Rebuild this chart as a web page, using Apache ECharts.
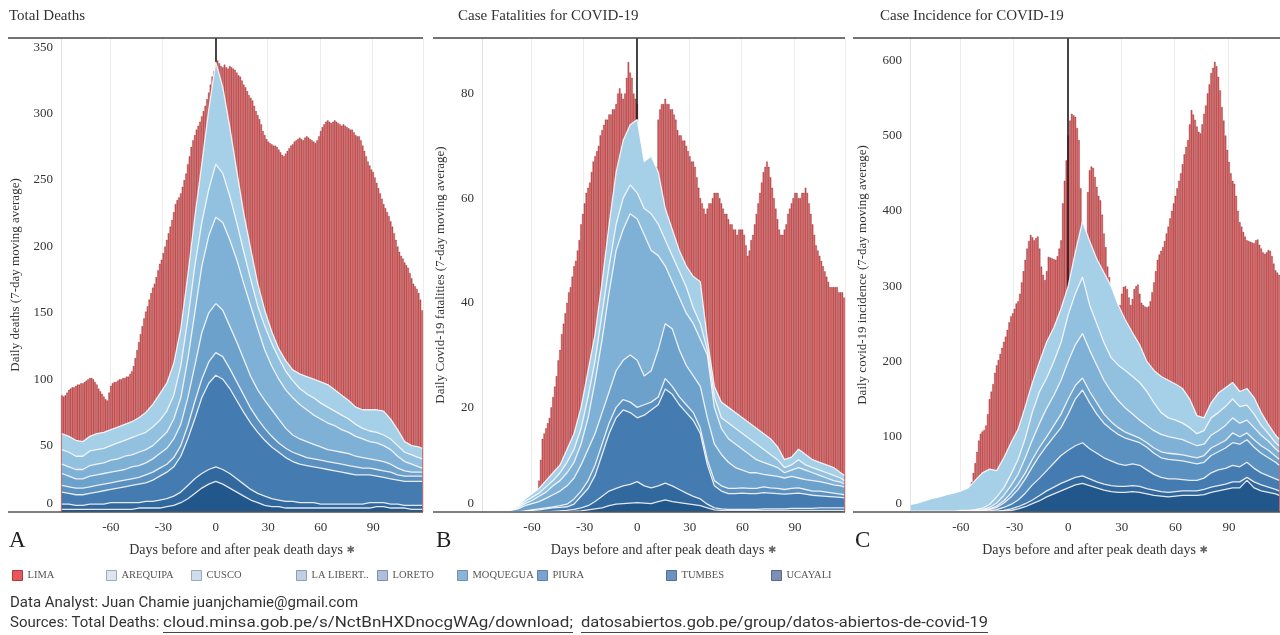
<!DOCTYPE html>
<html><head><meta charset="utf-8">
<script src="https://cdn.jsdelivr.net/npm/echarts@6/dist/echarts.min.js"></script>
<style>html,body{margin:0;padding:0;background:#fff;}#c{width:1280px;height:635px;}</style>
</head><body><div id="c"></div>
<script>
// ---------- categories & ticks ----------
const days = [-88,-87,-86,-85,-84,-83,-82,-81,-80,-79,-78,-77,-76,-75,-74,-73,-72,-71,-70,-69,-68,-67,-66,-65,-64,-63,-62,-61,-60,-59,-58,-57,-56,-55,-54,-53,-52,-51,-50,-49,-48,-47,-46,-45,-44,-43,-42,-41,-40,-39,-38,-37,-36,-35,-34,-33,-32,-31,-30,-29,-28,-27,-26,-25,-24,-23,-22,-21,-20,-19,-18,-17,-16,-15,-14,-13,-12,-11,-10,-9,-8,-7,-6,-5,-4,-3,-2,-1,0,1,2,3,4,5,6,7,8,9,10,11,12,13,14,15,16,17,18,19,20,21,22,23,24,25,26,27,28,29,30,31,32,33,34,35,36,37,38,39,40,41,42,43,44,45,46,47,48,49,50,51,52,53,54,55,56,57,58,59,60,61,62,63,64,65,66,67,68,69,70,71,72,73,74,75,76,77,78,79,80,81,82,83,84,85,86,87,88,89,90,91,92,93,94,95,96,97,98,99,100,101,102,103,104,105,106,107,108,109,110,111,112,113,114,115,116,117,118];
const sampleDays = [-88,-84,-80,-76,-72,-68,-64,-60,-56,-52,-48,-44,-40,-36,-32,-28,-24,-20,-16,-12,-8,-4,0,4,8,12,16,20,24,28,32,36,40,44,48,52,56,60,64,68,72,76,80,84,88,92,96,100,104,108,112,116,118];
const xTickLabels = [-60,-30,0,30,60,90];
const regionNames = ['AREQUIPA','CUSCO','LA LIBERTAD','LORETO','MOQUEGUA','PIURA','TUMBES','UCAYALI'];

// ---------- LIMA (bars, one per day) ----------
const limaDeaths = [88,87,88,90,92,93,94,94,95,96, 96,97,97,98,99,100,101,101,100,98, 96,93,91,89,87,85,84,90,95,97, 98,98,99,100,100,101,101,102,102,104, 106,110,116,122,128,134,140,146,151,155, 160,165,169,172,177,182,187,190,195,200, 205,210,215,220,226,232,235,237,240,245, 250,255,262,268,275,280,284,288,291,294, 298,302,306,311,316,322,328,332,336,340, 338,336,335,337,335,334,336,335,334,333, 331,329,328,325,322,320,317,314,312,310, 306,302,299,296,292,287,284,281,279,278, 277,276,276,275,273,271,269,268,270,272, 274,276,277,279,280,281,282,281,280,282, 283,282,281,280,279,278,280,283,287,290, 292,294,295,294,293,294,295,294,293,292, 291,292,291,290,289,288,288,286,284,283, 283,280,276,272,268,264,261,258,256,252, 248,244,240,236,232,229,226,223,219,215, 210,205,200,196,193,191,188,186,184,180, 176,172,170,168,165,160,152];
const limaFatalities = [0,0,0,0,0,0,0,0,0,0, 0,0,0,0,0,0,0,0,0,0, 0,0,0,0,0,0,0,0,0,0, 0,0,6,10,14,15,16,17,18,20, 22,24,26,29,31,34,36,38,40,42, 43,45,47,48,50,52,55,57,59,61, 62,63,65,67,68,69,70,72,73,74, 75,75,76,76,77,77,78,80,81,80, 79,80,83,86,84,83,80,79,78,64, 62,61,60,60,61,62,63,64,65,66, 75,77,78,78,79,78,78,77,77,76, 75,73,72,72,71,71,70,69,68,67, 67,66,64,62,60,59,58,57,58,59, 59,60,61,61,61,60,59,58,57,57, 56,55,55,54,54,53,54,54,54,53, 51,49,50,52,53,55,57,59,61,63, 65,66,67,66,64,62,60,58,56,54, 53,53,54,55,57,58,59,60,61,61, 60,60,61,61,62,61,59,57,55,53, 51,50,49,48,47,46,45,44,43,43, 43,43,43,42,42,42,41];
const limaCases = [0,0,0,0,0,0,0,0,0,0, 0,0,0,0,0,0,0,0,0,0, 0,0,0,0,0,0,0,0,0,0, 0,0,0,28,40,52,65,80,95,104, 107,109,115,130,150,160,170,185,195,202, 210,218,226,233,242,252,260,264,270,277, 280,290,305,320,335,350,360,368,365,361, 364,366,350,326,315,308,320,339,338,337, 336,335,340,350,361,410,440,467,500,520, 529,527,525,510,494,430,375,360,372,425, 454,459,457,445,432,420,414,395,370,352, 326,312,290,282,276,272,270,275,290,299, 300,296,285,275,283,296,300,302,290,278, 275,273,272,273,280,292,305,320,335,342, 347,352,360,370,379,390,400,410,420,430, 440,450,462,475,485,494,515,534,528,521, 512,505,503,515,529,540,556,568,583,590, 598,592,578,560,538,520,500,481,465,450, 440,436,420,400,385,379,372,366,361,360, 359,358,357,361,362,355,350,345,343,345, 348,347,340,330,321,318,315];

// ---------- other regions (stacked areas, values at sampleDays) ----------
// Total deaths
const arequipaDeaths = [12,12,12,11,11,12,12,12,12,12, 12,13,15,17,20,21,24,28,33,37, 44,60,77,65,52,39,29,23,17,12, 9,7,8,8,11,13,14,16,17,16, 15,14,13,14,16,17,18,15,12,8, 7,8,8];
const cuscoDeaths = [11,11,10,10,11,11,11,11,12,12, 13,13,13,14,14,16,18,24,30,35, 33,35,40,37,33,28,24,20,17,18, 17,16,14,13,12,12,13,12,12,11, 11,10,9,8,8,8,8,8,8,7, 7,7,7];
const laLibertadDeaths = [7,7,7,7,8,8,8,9,9,10, 9,10,10,10,11,12,15,20,29,40, 50,58,65,66,65,62,57,53,46,38, 33,30,29,28,26,24,22,21,20,19, 17,16,15,14,13,13,12,11,9,7, 6,4,3];
const loretoDeaths = [9,8,7,7,8,8,8,8,8,8, 9,9,9,10,11,12,14,16,21,27, 35,37,37,35,32,30,27,24,22,21, 20,18,15,13,12,12,11,10,9,9, 9,9,8,8,7,7,7,6,5,4, 3,3,3];
const moqueguaDeaths = [5,5,5,5,5,5,5,5,5,5, 5,5,6,6,6,6,7,8,10,13, 14,16,17,17,15,14,13,11,10,9, 8,7,7,7,7,6,6,6,6,6, 6,6,6,5,5,5,5,5,4,4, 4,4,4];
const piuraDeaths = [9,8,8,8,8,9,10,10,11,12, 13,14,14,16,18,20,22,27,35,45, 57,65,69,68,64,59,54,50,46,42, 39,36,33,30,29,28,27,27,26,25, 24,23,22,22,21,20,19,19,18,18, 18,18,18];
const tumbesDeaths = [4,4,3,3,4,4,4,5,5,5, 5,4,5,5,6,6,7,8,10,11, 11,11,11,11,11,10,9,8,7,7, 6,5,5,5,4,4,4,3,3,3, 3,3,3,3,4,3,3,3,3,2, 3,3,3];
const ucayaliDeaths = [2,2,2,2,2,2,2,2,2,2, 2,3,3,3,3,4,5,7,10,14, 18,21,23,21,18,15,12,9,7,5, 4,4,3,3,3,3,3,3,3,3, 3,3,3,3,3,4,4,3,3,3, 2,2,2];
// Case fatalities
const arequipaFatalities = [0,0,0.1,0.1,0.1,0.2,0.5,0.7,0.9,1.2, 1.5,1.5,2.5,3,4,5,5,6,8,10, 11,11.5,14,9,11,10,6,5,4,4, 6,8,2,2,3,3,3,3,3,3, 3,3,2.5,1.5,1.5,2,2,1.5,1.5,1.5, 1.5,1,1];
const cuscoFatalities = [0,0,0.1,0.1,0.1,0.2,0.4,0.6,0.6,1, 1,1.5,2,2.5,3,4,4,5,5,5, 6,5.5,5,5,7,6,5,5,5,5, 3,3,1,2,2,3,3,3,3,3, 2.5,2,1.5,1,1,1.5,1,1,1,1, 1,0.8,0.6];
const laLibertadFatalities = [0,0,0,0.1,0.1,0.2,0.4,0.6,1,1.2, 1.7,2,2.5,3,4,6,10,14,19,23, 25,27,27,27,23,18,11,9,10,10, 10,9,12,7,5,4.5,4.5,4,3.5,2.5, 2.3,2,1.7,1,1.2,2,1.8,1.5,1.2,1, 0.8,0.7,0.6];
const loretoFatalities = [0,0,0,0.1,0.3,0.6,1,1.2,1.4,1.8, 2.3,2.8,3.5,4,5,6,6,6,6,7, 7.5,9,9,5.5,6,9,10.5,11,9,7.5, 7,8,8,7,6,5,4,3.4,3,3, 2.4,2.4,2.3,2.2,2.3,1.9,1.9,2,1.8,1.7, 1.6,1.6,1.5];
const moqueguaFatalities = [0,0,0,0,0,0,0.1,0.1,0.2,0.2, 0.2,0.3,0.5,1,1,1.5,2,2,2,2, 2,2,2,2,1.5,1.5,2,1.5,1.5,1.5, 1.5,1,1,1,1,1,1,1,1,1, 1.1,1,1,0.9,1,1,0.9,0.8,0.9,0.8, 0.7,0.6,0.6];
const piuraFatalities = [0,0,0,0,0,0,0.1,0.3,0.4,0.6, 0.7,0.7,0.7,1,2.2,3.3,5,8,11,13.5, 14.5,13.7,12.2,13.5,14.9,15.5,18,17.5,16.2,15.4, 14.5,12.5,7.5,4.2,3.4,3,3,3.1,3,3, 3.1,3,2.9,2.8,2.8,2.9,2.7,2.5,2.3,2.2, 2.1,2,1.9];
const tumbesFatalities = [0,0,0,0,0,0,0,0,0,0, 0.1,0.2,0.3,0.4,0.6,0.8,1.4,2.2,2.8,3, 3.4,3.6,4,3.3,3,3,3.2,3,2.5,2, 1.6,1.3,0.7,0.4,0.3,0.2,0.2,0.2,0.2,0.2, 0.3,0.3,0.3,0.3,0.4,0.4,0.4,0.4,0.5,0.5, 0.5,0.5,0.5];
const ucayaliFatalities = [0,0,0,0,0,0,0,0,0,0, 0,0,0,0.1,0.2,0.4,0.6,0.8,1.2,1.5, 1.6,1.7,1.8,1.7,1.6,2,2.3,2,1.8,1.6, 1.4,1.2,0.8,0.4,0.3,0.3,0.3,0.3,0.3,0.3, 0.3,0.3,0.3,0.3,0.3,0.3,0.3,0.3,0.3,0.3, 0.3,0.3,0.3];
// Case incidence
const arequipaCases = [9,11,14,17,19,22,24,26,30,39, 47,47,35,40,42,40,42,39,40,48, 45,45,38,55,74,85,86,93,95,80, 67,58,50,40,43,48,50,48,46,38, 24,17,20,26,25,22,20,22,22,17, 12,10,9];
const cuscoCases = [1,1,1,1,1,1,1,1,1,1, 2,4,8,10,15,20,26,37,42,40, 45,50,62,68,75,60,55,50,45,47, 50,50,50,45,37,29,25,24,22,20, 16,18,23,24,25,25,22,20,18,13, 10,8,8];
const laLibertadCases = [0,0,0,0,0,0,0,1,1,1, 1,2,4,7,10,13,20,26,32,38, 40,45,50,54,59,55,50,45,40,36, 32,28,24,23,23,23,22,21,20,18, 16,15,17,18,20,20,18,17,16,14, 12,10,10];
const loretoCases = [0,0,0,0,0,0,0,0,0,0.5, 0.5,1,2,3,5,7,8,10,11,12, 15,18,20,18,16,15,15,12,10,9, 8,7,6,6,7,8,8,8,8,8, 8,9,10,10,10,13,10,9,10,10, 10,8,8];
const moqueguaCases = [0,0,0,0,0,0,0,0,0,0.5, 1,1.5,3,6,10,14,19,24,30,33, 35,37,48,62,70,61,52,46,42,39, 36,31,30,30,28,26,26,25,25,24, 22,21,23,24,27,30,30,30,28,26, 24,22,20];
const piuraCases = [0,0,0,0,0,0,0,0,0,0, 0.5,1,2,4,6,9,14,20,23,27, 32,37,40,42,44,40,38,35,33,30, 28,29,28,25,21,19,18,17,15,14, 14,15,19,21,21,22,20,20,18,16, 15,14,14];
const tumbesCases = [0,0,0,0,0,0,0,0,0,0, 0,0.5,0.5,1,2,3,4,5,7,8, 9,10,10,10,10,9,8,8,8,8, 8,8,8,7,7,6,6,6,6,6, 6,7,7,7,7,8,8,4,8,8, 7,6,6];
const ucayaliCases = [0,0,0,0,0,0,0,0,0,0, 0,0,0.5,1,2,4,7,11,15,20, 24,28,32,36,38,35,32,29,27,26, 26,27,26,24,22,21,20,21,22,22, 22,23,26,28,30,32,32,42,32,28, 26,24,22];

// ---------- styling ----------
const SERIF = 'Liberation Serif';
const regionColors = {'AREQUIPA':'#a6cfe8','CUSCO':'#92c0df','LA LIBERTAD':'#7fb1d6','LORETO':'#6ca1cb','MOQUEGUA':'#5a91c0','PIURA':'#447bb1','TUMBES':'#31689d','UCAYALI':'#22578b'};
const limaColor = '#e4595c';

const panels = [
  {lima: limaDeaths, regions: [arequipaDeaths,cuscoDeaths,laLibertadDeaths,loretoDeaths,moqueguaDeaths,piuraDeaths,tumbesDeaths,ucayaliDeaths],
   grid:{left:61,top:38,width:362,height:474}, yMax:357, yInt:50, yName:'Daily deaths (7-day moving average)', nameGap:39,
   title:'Total Deaths', titleX:9, letter:'A', letterX:9, frame:[8,423]},
  {lima: limaFatalities, regions: [arequipaFatalities,cuscoFatalities,laLibertadFatalities,loretoFatalities,moqueguaFatalities,piuraFatalities,tumbesFatalities,ucayaliFatalities],
   grid:{left:482,top:38,width:363,height:474}, yMax:90.6, yInt:20, yName:'Daily Covid-19 fatalities (7-day moving average)', nameGap:35,
   title:'Case Fatalities for COVID-19', titleX:458, letter:'B', letterX:436, frame:[433,845]},
  {lima: limaCases, regions: [arequipaCases,cuscoCases,laLibertadCases,loretoCases,moqueguaCases,piuraCases,tumbesCases,ucayaliCases],
   grid:{left:910,top:38,width:370,height:474}, yMax:629.5, yInt:100, yName:'Daily covid-19 incidence (7-day moving average)', nameGap:41,
   title:'Case Incidence for COVID-19', titleX:880, letter:'C', letterX:855, frame:[853,1280]}
];

const grids = [], xAxes = [], yAxes = [], series = [], titles = [], graphics = [];
const tickFn = (i, v) => xTickLabels.indexOf(Number(v)) >= 0;

panels.forEach((p, k) => {
  grids.push(p.grid);
  xAxes.push({
    type:'category', gridIndex:k, data: days.map(String), boundaryGap:true,
    axisLine:{show:false}, axisTick:{show:false},
    axisLabel:{interval: tickFn, margin:9, fontFamily:SERIF, fontSize:13, color:'#333'},
    splitLine:{show:true, interval: tickFn, lineStyle:{color:'#ececec', width:1}},
    name:'Days before and after peak death days {p|✱}', nameLocation:'middle', nameGap:31,
    nameTextStyle:{fontFamily:SERIF, fontSize:14, color:'#333', rich:{p:{fontFamily:'DejaVu Sans', fontSize:10, color:'#666'}}}
  });
  yAxes.push({
    type:'value', gridIndex:k, min:0, max:p.yMax, interval:p.yInt,
    axisLine:{show:true, lineStyle:{color:'#e2e2e2'}}, axisTick:{show:false}, splitLine:{show:false},
    axisLabel:{showMaxLabel:false, margin:8, fontFamily:SERIF, fontSize:13, color:'#333',
      formatter: v => v === 0 ? '{z|0}' : String(v), rich:{z:{fontFamily:SERIF, fontSize:13, color:'#333', padding:[0,0,17,0]}}},
    name:p.yName, nameLocation:'middle', nameRotate:90, nameGap:p.nameGap,
    nameTextStyle:{fontFamily:SERIF, fontSize:13, color:'#333'}
  });
  series.push({
    name:'LIMA', type:'bar', xAxisIndex:k, yAxisIndex:k, data:p.lima, z:2,
    barCategoryGap:'0%', itemStyle:{color:limaColor, borderColor:'rgba(105,15,15,0.55)', borderWidth:0.5},
    emphasis:{disabled:true}, silent:true,
    markLine:{silent:true, z:3, symbol:['none','none'], label:{show:false}, animation:false,
      lineStyle:{color:'#1a1a1a', width:1.6, type:'solid'}, emphasis:{disabled:true}, data:[{xAxis:'0'}]}
  });
  // stacked from bottom (UCAYALI) to top (AREQUIPA)
  for (let r = regionNames.length - 1; r >= 0; r--) {
    const name = regionNames[r];
    const vals = p.regions[r];
    series.push({
      name, type:'line', xAxisIndex:k, yAxisIndex:k, stack:'regions'+k, z:4,
      data: sampleDays.map((d, i) => [String(d), vals[i]]),
      symbol:'none', showSymbol:false, silent:true,
      lineStyle:{color:'rgba(255,255,255,0.85)', width:1.3},
      areaStyle:{color:regionColors[name], opacity:1},
      emphasis:{disabled:true}
    });
  }
  titles.push({text:p.title, left:p.titleX, top:9, padding:0,
    textStyle:{fontFamily:SERIF, fontSize:15, fontWeight:'normal', color:'#333'}});
  titles.push({text:p.letter, left:p.letterX, top:529, padding:0,
    textStyle:{fontFamily:SERIF, fontSize:23, fontWeight:'normal', color:'#222'}});
  graphics.push({type:'line', z:50, silent:true, shape:{x1:p.frame[0], y1:38, x2:p.frame[1], y2:38}, style:{stroke:'#444', lineWidth:1.5}});
  graphics.push({type:'line', z:50, silent:true, shape:{x1:p.frame[0], y1:512, x2:p.frame[1], y2:512}, style:{stroke:'#555', lineWidth:1.6}});
});

// ---------- legend ----------
const legendItems = [
  {name:'LIMA', x:12, fill:'#e8575c', border:'#b03a3e'},
  {name:'AREQUIPA', x:106, fill:'#dde6f0', border:'#9aa9bb'},
  {name:'CUSCO', x:191, fill:'#cfdcec', border:'#9aa9bb'},
  {name:'LA LIBERTAD', x:296, fill:'#bfcfe4', border:'#8d9db3', label:'LA LIBERT..'},
  {name:'LORETO', x:377, fill:'#aebfdb', border:'#7f8fab'},
  {name:'MOQUEGUA', x:457, fill:'#8db4d8', border:'#6f8fb3'},
  {name:'PIURA', x:537, fill:'#7aa3d0', border:'#5f80ab'},
  {name:'TUMBES', x:666, fill:'#6c92bf', border:'#50709c'},
  {name:'UCAYALI', x:771, fill:'#7e8fb5', border:'#5a6890'}
];
const legends = legendItems.map(it => ({
  data:[{name:it.name, itemStyle:{color:it.fill, borderColor:it.border, borderWidth:1}}],
  left:it.x, top:570, padding:0, icon:'rect', itemWidth:10, itemHeight:10, selectedMode:false,
  textStyle:{fontFamily:SERIF, fontSize:10.5, color:'#555'},
  formatter: it.label ? (() => it.label) : '{name}'
}));

// ---------- footer ----------
const FOOT = '15px Roboto';
const srcPrefix = 'Sources: Total Deaths: ';
const link1 = 'cloud.minsa.gob.pe/s/NctBnHXDnocgWAg/download;';
const link2 = 'datosabiertos.gob.pe/group/datos-abiertos-de-covid-19';
const link1End = 573, link2Start = 581, link2End = 988;   // extents of the links in the source picture
const mctx = document.createElement('canvas').getContext('2d');
mctx.font = FOOT;
const wPre = mctx.measureText(srcPrefix).width;
const w1 = mctx.measureText(link1).width, w2 = mctx.measureText(link2).width;
const x1 = 10 + wPre;
const s1 = (link1End - x1) / w1, s2 = (link2End - link2Start) / w2;
graphics.push({type:'text', x:10, y:596, z:50, style:{text:'Data Analyst: Juan Chamie juanjchamie@gmail.com', font:FOOT, fill:'#333'}});
graphics.push({type:'text', x:10, y:616, z:50, style:{text:srcPrefix, font:FOOT, fill:'#333'}});
graphics.push({type:'text', x:x1, y:616, scaleX:s1, originX:0, z:50, style:{text:link1, font:FOOT, fill:'#333'}});
graphics.push({type:'text', x:link2Start, y:616, scaleX:s2, originX:0, z:50, style:{text:link2, font:FOOT, fill:'#333'}});
const ulY = 632.5;
graphics.push({type:'line', z:50, silent:true, shape:{x1:x1, y1:ulY, x2:link1End, y2:ulY}, style:{stroke:'#444', lineWidth:1}});
graphics.push({type:'line', z:50, silent:true, shape:{x1:link2Start, y1:ulY, x2:link2End, y2:ulY}, style:{stroke:'#444', lineWidth:1}});

const chart = echarts.init(document.getElementById('c'), null, {renderer:'canvas'});
chart.setOption({
  animation:false, backgroundColor:'#fff',
  title:titles, grid:grids, xAxis:xAxes, yAxis:yAxes, legend:legends, series:series, graphic:graphics
});
</script></body></html>
